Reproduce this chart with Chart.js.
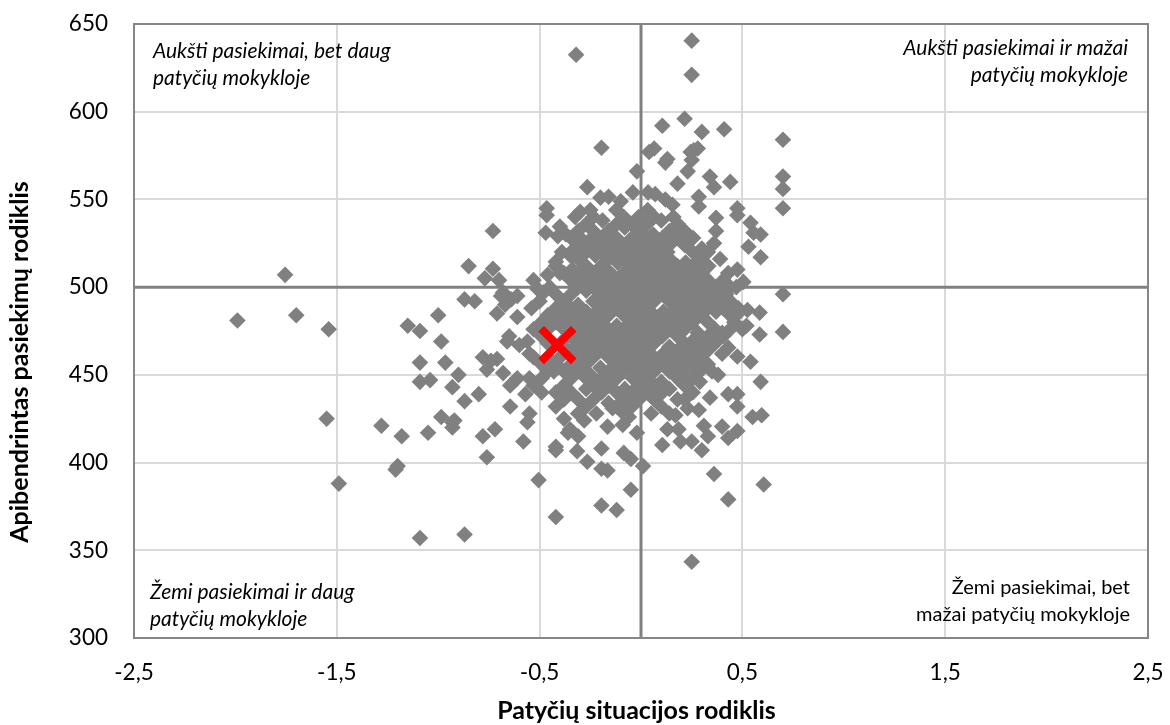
<!DOCTYPE html>
<html><head><meta charset="utf-8">
<style>html,body{margin:0;padding:0;background:#fff}#w{width:1170px;height:725px;position:relative}canvas{display:block}</style>
<script src="https://cdn.jsdelivr.net/npm/chart.js@4"></script>
</head><body><div id="w"><canvas id="c" width="1170" height="725"></canvas></div>
<script>
const xTickLabels = ['-2,5','-1,5','-0,5','0,5','1,5','2,5'];
const yTickValues = [300,350,400,450,500,550,600,650];
const xAxisTitle = 'Patyčių situacijos rodiklis';
const yAxisTitle = 'Apibendrintas pasiekimų rodiklis';
const averagePoint = [[-0.412,467]];
const meanLineX = [[0,300],[0,650]];
const meanLineY = [[-2.5,500],[2.5,500]];

const leftPoints = [[-1.99,481],[-1.755,507],[-1.70,484],[-1.54,476],[-1.55,425],[-1.49,388],[-1.28,421],[-1.15,478],[-1.09,475],[-1.09,457],[-1.09,446],[-1.04,447],[-1.0,484],[-0.985,469],[-0.965,457],[-1.18,415],[-1.05,417],[-0.985,426],[-0.93,423],[-1.2,398],[-1.21,396],[-1.09,357],[-0.87,359],
[-0.85,512],[-0.73,510.5],[-0.77,505],[-0.70,504],[-0.53,504],[-0.87,493],[-0.82,492],[-0.69,495],[-0.64,493],[-0.67,490],[-0.61,495],[-0.68,497],[-0.71,485],[-0.61,483],[-0.54,488],[-0.65,472],[-0.66,469],[-0.60,467],[-0.56,469],[-0.78,460],[-0.74,458],[-0.71,459],[-0.76,453],[-0.68,451],[-0.90,450],[-0.93,443],[-0.80,439],[-0.87,435],[-0.645,444],[-0.61,448],[-0.57,439],[-0.645,432],[-0.92,424],[-0.93,420],[-0.78,415],[-0.72,419],[-0.58,412],[-0.55,428],[-0.56,423],[-0.38,425],[-0.36,417],[-0.42,409],[-0.76,403],[-0.73,532]];
const topPoints = [[-0.32,632.5],[0.25,640.5],[0.25,621],[0.215,596],[0.105,592],[0.30,588.5],[0.41,590],[0.70,584],[-0.195,579.5],[0.04,577],[0.065,579],[0.26,578],[0.28,579],[0.245,577],[0.25,572.5],[0.12,571],[0.13,573],[-0.02,566],[0.23,566],[0.70,563],[0.34,563],[0.18,559],[0.36,557],[0.44,560],[0.70,556],[-0.265,557],[0.285,551.5],[0.70,545],[0.285,546],[0.475,545],[0.475,541],[-0.465,545],[-0.465,541],[0.37,539.5],[0.54,536.7],[0.555,531],[0.59,530],[0.37,532],[0.53,523],[0.59,517],[0.475,510],[0.505,503],[0.39,516],[0.36,525],[0.16,540],[0.16,533],
[-0.2,551],[-0.16,551.5],[-0.10,549],[-0.04,554],[0.035,554],[0.07,553],[0.12,550],[0.155,547],[-0.30,543],[-0.25,544],[-0.325,540],[-0.40,534.5],[-0.41,529],[-0.37,530],[-0.29,527],[-0.42,514.5],[-0.34,517],[-0.47,531],[-0.46,507],[-0.51,499],[-0.48,497]];
const bottomPoints = [[-0.42,407],[-0.315,406.5],[-0.195,408],[-0.265,400.5],[-0.085,405.5],[-0.05,402],[-0.195,396.5],[-0.165,395.5],[0.01,398],[-0.505,390],[-0.05,384.5],[-0.195,375.5],[-0.12,373],[-0.42,369],[0.36,393.5],[0.605,387.5],[0.43,379],[0.25,343.5],[0.105,410],[0.195,412],[0.25,412],[0.30,407],[0.33,415],[0.31,421],[0.40,420.5],[0.43,414],[0.475,418],[0.185,419],[0.13,419],[-0.02,417],[-0.09,421.5],[-0.165,420.5],[-0.35,419],[-0.31,415],[0.59,446],[0.55,426],[0.595,427],[0.585,485.5],[0.585,473],[0.70,474.5],[0.70,496],[0.54,457.5],[0.475,460.5],[0.43,465.5],[0.34,437],[0.43,439],[0.475,439],[0.475,432],[0.285,430],[0.38,450],[0.525,487],[-0.28,424],[-0.22,428],[-0.14,431],[-0.06,426],[0.05,428],[0.10,432],[0.17,427],[0.23,431],[0.50,476],[0.47,500],[0.52,478]];
const fillPoints = [[-0.08,534],[0.06,530],[-0.26,526],[-0.225,518],[0.22,514],[-0.34,510],[-0.115,514],[-0.27,498],[0.11,486],[-0.12,478],[0.28,474],[0.26,470],[0.14,466],[0.11,462],[-0.38,466],[-0.39,461],[-0.38,470],[-0.2,454],[-0.25,450],[0.21,452],[0.35,452],[-0.04,448],[0.10,446],[-0.08,442],[0.14,442],[0.29,446],[-0.27,442],[-0.42,440],[0.18,436],[-0.16,434],[0.36,470],[0.37,486],[0.40,462],[0.31,458],[0.36,494],[-0.19,538],[0.10,538],[0.22,528],[0.30,522],[-0.39,520],[-0.40,508],[-0.5,492],[-0.53,476],[-0.55,462],[-0.55,448],[0.42,496],[0.43,508],[0.47,484],[0.40,474],[-0.31,490],[-0.27,486],[-0.12,497],[0.17,503],[0.02,520],[-0.15,508],[0.08,512],[0.13,520],[0.17,474],[-0.05,460],[-0.34,450],[-0.42,486],[-0.46,470],[-0.43,452],[-0.27,466],[0.24,458],[0.2,484]];

const coreY = [544,540,536,532,528,524,520,516,512,508,504,500,496,492,488,484,480,476,472,468,464,460,456,452,448,444,440,436,432,428];
const coreX = [
[-0.122,0.033],
[-0.235,-0.085,-0.012,0.065],
[-0.27,-0.12,-0.047,0.03,0.182],
[-0.31,-0.235,-0.16,-0.01,0.14,0.215],
[-0.345,-0.197,-0.12,-0.045,0.032,0.105,0.18,0.257],
[-0.31,-0.233,-0.16,-0.085,-0.012,0.065,0.14,0.215],
[-0.345,-0.27,-0.195,-0.122,-0.045,0.03,0.107,0.255,0.33],
[-0.31,-0.16,-0.083,-0.01,0.065,0.142,0.29],
[-0.42,-0.27,-0.195,-0.045,0.03,0.105,0.18,0.255,0.332],
[-0.38,-0.31,-0.235,-0.158,-0.085,-0.01,0.067,0.14,0.215,0.29],
[-0.345,-0.272,-0.195,-0.12,-0.045,0.03,0.105,0.183,0.255,0.33,0.405],
[-0.45,-0.31,-0.235,-0.16,-0.087,-0.01,0.065,0.14,0.215,0.288,0.365,0.44],
[-0.42,-0.345,-0.195,-0.12,-0.043,0.03,0.105,0.18,0.255,0.33,0.405],
[-0.38,-0.235,-0.162,-0.085,-0.01,0.065,0.14,0.217,0.29,0.365,0.44],
[-0.42,-0.345,-0.195,-0.12,-0.045,0.03,0.18,0.255,0.33,0.405,0.48],
[-0.46,-0.38,-0.31,-0.237,-0.16,-0.085,-0.01,0.065,0.14,0.215,0.29,0.44],
[-0.49,-0.42,-0.345,-0.27,-0.195,-0.045,0.032,0.105,0.18,0.255,0.33,0.46],
[-0.46,-0.38,-0.308,-0.235,-0.16,-0.085,-0.012,0.065,0.14,0.215,0.365,0.44],
[-0.49,-0.345,-0.27,-0.193,-0.12,-0.045,0.03,0.105,0.18,0.33,0.405],
[-0.46,-0.31,-0.235,-0.16,-0.083,-0.01,0.065,0.215,0.29,0.365],
[-0.345,-0.27,-0.195,-0.12,-0.045,0.03,0.18,0.255,0.33],
[-0.53,-0.46,-0.31,-0.235,-0.16,-0.085,-0.01,0.065,0.14,0.215,0.29],
[-0.49,-0.42,-0.345,-0.27,-0.12,-0.047,0.03,0.105,0.18,0.255,0.33],
[-0.46,-0.38,-0.31,-0.16,-0.085,-0.01,0.065,0.14,0.29],
[-0.49,-0.345,-0.27,-0.195,-0.12,0.03,0.18,0.255],
[-0.53,-0.38,-0.235,-0.16,-0.01,0.065,0.215],
[-0.49,-0.345,-0.195,-0.12,-0.045,0.03,0.105,0.255],
[-0.38,-0.31,-0.235,-0.085,-0.01,0.065,0.215],
[-0.42,-0.27,-0.12,-0.045],
[-0.31,-0.085,0.14]
];

const schoolPoints = [...leftPoints,...topPoints,...bottomPoints,...fillPoints];
coreY.forEach((y,i)=>coreX[i].forEach(x=>schoolPoints.push([x,y])));
const toXY = a => a.map(p=>({x:p[0],y:p[1]}));

const quadrantNotes = {
  id:'quadrantNotes',
  afterDatasetsDraw(chart){
    const {ctx,chartArea:a}=chart;
    ctx.save();
    ctx.fillStyle='#000';
    ctx.textBaseline='alphabetic';
    const lh=26.5;
    ctx.font='italic 21px Lato, sans-serif';
    ctx.textAlign='left';
    ctx.fillText('Aukšti pasiekimai, bet daug',a.left+19,a.top+34);
    ctx.fillText('patyčių mokykloje',a.left+19,a.top+34+lh);
    ctx.fillText('Žemi pasiekimai ir daug',a.left+16,a.bottom-39);
    ctx.fillText('patyčių mokykloje',a.left+16,a.bottom-39+lh);
    ctx.textAlign='right';
    ctx.fillText('Aukšti pasiekimai ir mažai',a.right-20,a.top+31);
    ctx.fillText('patyčių mokykloje',a.right-20,a.top+31+lh);
    ctx.font='20px Lato, sans-serif';
    ctx.fillText('Žemi pasiekimai, bet',a.right-18,a.bottom-44);
    ctx.fillText('mažai patyčių mokykloje',a.right-18,a.bottom-44+lh);
    ctx.strokeStyle='#868686';
    ctx.lineWidth=2;
    ctx.strokeRect(a.left,a.top,a.right-a.left,a.bottom-a.top);

    ctx.font='bold 25px Lato, sans-serif';
    ctx.textAlign='center';
    ctx.textBaseline='middle';
    ctx.fillText(xAxisTitle,636.5,711);
    ctx.translate(20,362);
    ctx.rotate(-Math.PI/2);
    ctx.fillText(yAxisTitle,0,0);
    ctx.restore();
  }
};

new Chart(document.getElementById('c'),{
  type:'scatter',
  data:{datasets:[
    {label:'Vidurkis',data:toXY(averagePoint),pointStyle:'crossRot',pointRadius:23,pointBorderWidth:8,borderColor:'#ff0000',backgroundColor:'#ff0000',pointBorderColor:'#ff0000',order:0},
    {label:'Mokyklos',data:toXY(schoolPoints),pointStyle:'rectRot',pointRadius:8.3,pointBorderWidth:0,borderWidth:0,backgroundColor:'#808080',pointBackgroundColor:'#808080',order:1},
    {label:'x=0',data:toXY(meanLineX),showLine:true,pointRadius:0,borderColor:'#808080',borderWidth:3,order:2},
    {label:'y=500',data:toXY(meanLineY),showLine:true,pointRadius:0,borderColor:'#808080',borderWidth:3,order:3}
  ]},
  options:{
    responsive:false,animation:false,
    layout:{autoPadding:false,padding:{left:0,right:22,top:24,bottom:0}},
    plugins:{legend:{display:false},tooltip:{enabled:false},title:{display:false}},
    scales:{
      x:{type:'linear',min:-2.5,max:2.5,
        afterBuildTicks(s){s.ticks=xTickLabels.map((l,i)=>({value:-2.5+i,label:l}));},
        afterFit(s){s.height=87;s.paddingLeft=0;s.paddingRight=0;},
        ticks:{autoSkip:false,maxRotation:0,padding:21,color:'#000',font:{family:'Lato, sans-serif',size:22.5},callback(v){return String(v).replace('.',',');}},
        grid:{color:'#d9d9d9',lineWidth:2,drawTicks:false},border:{display:false}
      },
      y:{type:'linear',min:300,max:650,
        afterBuildTicks(s){s.ticks=yTickValues.map(v=>({value:v}));},
        afterFit(s){s.width=134;s.paddingTop=0;s.paddingBottom=0;},
        ticks:{padding:26,color:'#000',font:{family:'Lato, sans-serif',size:22.5}},
        grid:{color:'#d9d9d9',lineWidth:2,drawTicks:false},border:{display:false}
      }
    }
  },
  plugins:[quadrantNotes]
});
</script></body></html>
